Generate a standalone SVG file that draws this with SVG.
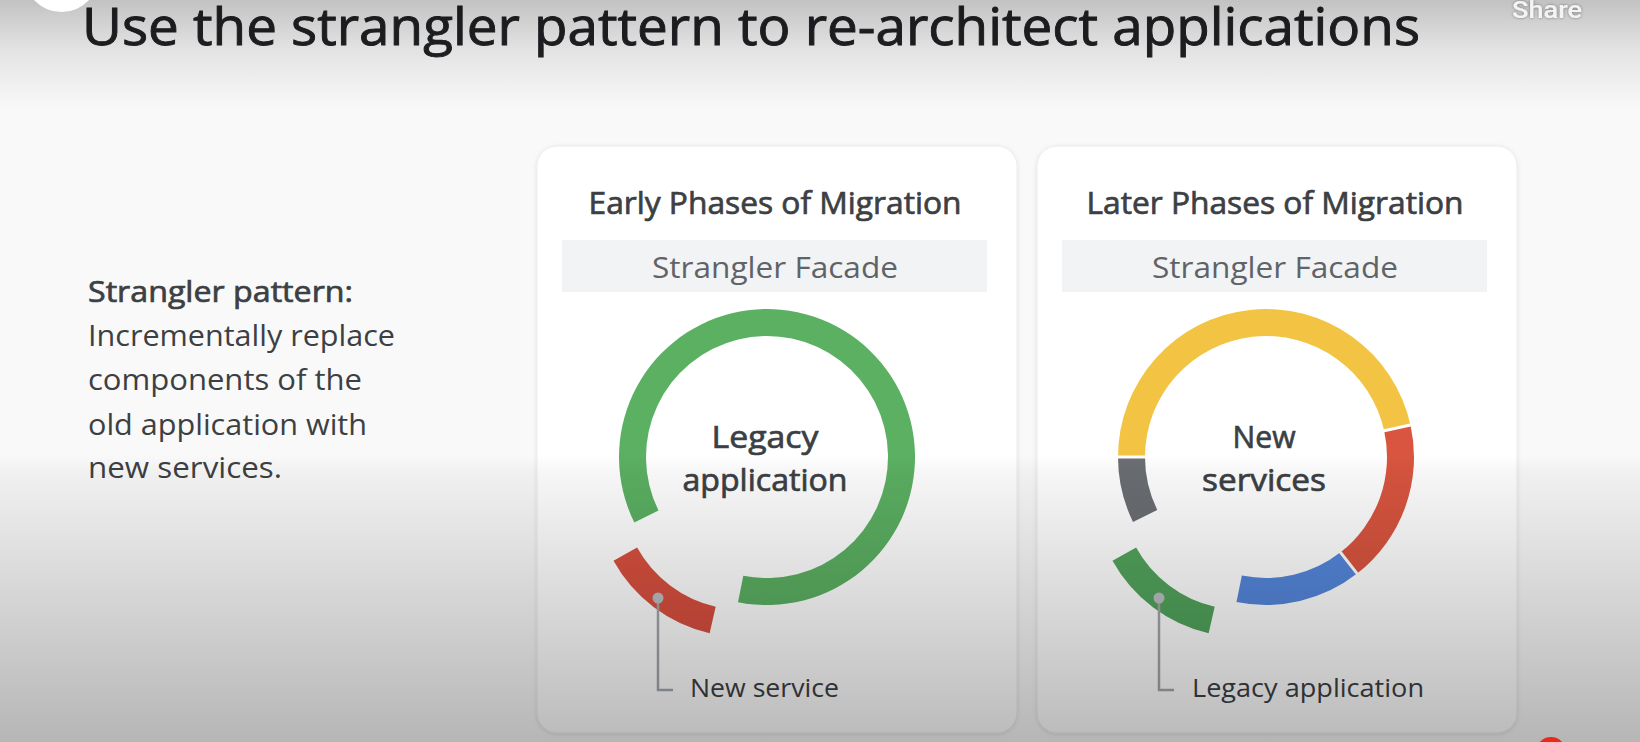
<svg xmlns="http://www.w3.org/2000/svg" width="1640" height="742" viewBox="0 0 1640 742">
  <defs>
    <style>
      .t { font-family: "Open Sans", "Noto Sans", sans-serif; fill: #3c4043; }
      .med { stroke: #3c4043; stroke-width: 0.7; paint-order: stroke; }
      .title { font-size: 51px; fill: #202124; stroke: #202124; stroke-width: 0.9; }
      .lead { font-size: 29px; }
      .ph { font-size: 31px; text-anchor: middle; }
      .fac { font-size: 30px; fill: #5f6368; text-anchor: middle; }
      .core { font-size: 31px; text-anchor: middle; }
      .cap { font-size: 26px; }
      .card { fill: #ffffff; stroke: #ececec; stroke-width: 1; }
      .bar { fill: #f1f3f4; }
      .lead-line { fill: none; stroke: #a3a6ab; stroke-width: 2.5; }
      .pin { fill: #bcbfc4; }
      .sep { stroke: #ffffff; stroke-width: 3; }
    </style>
    <filter id="cardShadow" x="-10%" y="-10%" width="120%" height="120%">
      <feDropShadow dx="0" dy="1" stdDeviation="2" flood-color="#000" flood-opacity="0.10"/>
    </filter>
    <filter id="textShadow" x="-20%" y="-40%" width="140%" height="180%">
      <feDropShadow dx="0" dy="0" stdDeviation="1.5" flood-color="#000" flood-opacity="0.45"/>
    </filter>
    <linearGradient id="topShade" x1="0" y1="0" x2="0" y2="1">
      <stop offset="0" stop-color="#000" stop-opacity="0.22"/>
      <stop offset="0.45" stop-color="#000" stop-opacity="0.09"/>
      <stop offset="1" stop-color="#000" stop-opacity="0"/>
    </linearGradient>
    <linearGradient id="bottomShade" x1="0" y1="0" x2="0" y2="1">
      <stop offset="0" stop-color="#000" stop-opacity="0"/>
      <stop offset="0.06" stop-color="#000" stop-opacity="0.035"/>
      <stop offset="1" stop-color="#000" stop-opacity="0.27"/>
    </linearGradient>
  </defs>

  <!-- page -->
  <rect x="0" y="0" width="1640" height="742" fill="#f9f9f9"/>

  <!-- heading -->
  <text id="heading" class="t title" x="82" y="45" textLength="1338" lengthAdjust="spacingAndGlyphs">Use the strangler pattern to re-architect applications</text>

  <!-- description -->
  <g id="description">
    <text class="t lead med" x="88" y="302" textLength="265" lengthAdjust="spacingAndGlyphs">Strangler pattern:</text>
    <text class="t lead" x="88" y="346" textLength="307" lengthAdjust="spacingAndGlyphs">Incrementally replace</text>
    <text class="t lead" x="88" y="390" textLength="274" lengthAdjust="spacingAndGlyphs">components of the</text>
    <text class="t lead" x="88" y="435" textLength="279" lengthAdjust="spacingAndGlyphs">old application with</text>
    <text class="t lead" x="88" y="478" textLength="194" lengthAdjust="spacingAndGlyphs">new services.</text>
  </g>

  <!-- early phase card -->
  <g id="early-phase">
    <rect class="card" x="537" y="146" width="480" height="587" rx="20" filter="url(#cardShadow)"/>
    <text class="t ph med" x="775" y="214" textLength="373" lengthAdjust="spacingAndGlyphs">Early Phases of Migration</text>
    <rect class="bar" x="562" y="240" width="425" height="52"/>
    <text class="t fac" x="775" y="278" textLength="246" lengthAdjust="spacingAndGlyphs">Strangler Facade</text>
    <!-- legacy ring -->
    <path fill="#5bb062" d="M634.32,522.56 A148,148 0 1 1 738.01,602.13 L743.30,575.65 A121,121 0 1 0 658.52,510.60 Z"/>
    <!-- extracted service -->
    <path fill="#d9503f" d="M709.63,633.15 A148,148 0 0 1 613.49,560.69 L637.10,547.60 A121,121 0 0 0 715.70,606.84 Z"/>
    <text class="t core med" x="765" y="448" textLength="107" lengthAdjust="spacingAndGlyphs">Legacy</text>
    <text class="t core med" x="765" y="491" textLength="165" lengthAdjust="spacingAndGlyphs">application</text>
  </g>

  <!-- later phase card -->
  <g id="later-phase">
    <rect class="card" x="1037" y="146" width="480" height="587" rx="20" filter="url(#cardShadow)"/>
    <text class="t ph med" x="1275" y="214" textLength="377" lengthAdjust="spacingAndGlyphs">Later Phases of Migration</text>
    <rect class="bar" x="1062" y="240" width="425" height="52"/>
    <text class="t fac" x="1275" y="278" textLength="246" lengthAdjust="spacingAndGlyphs">Strangler Facade</text>
    <!-- service ring segments -->
    <path fill="#f3c443" d="M1118,457 A148,148 0 0 1 1410.49,424.97 L1384.13,430.82 A121,121 0 0 0 1145,457 Z"/>
    <path fill="#d9553f" d="M1410.49,424.97 A148,148 0 0 1 1357.12,573.62 L1340.50,552.35 A121,121 0 0 0 1384.13,430.82 Z"/>
    <path fill="#5587dc" d="M1357.12,573.62 A148,148 0 0 1 1236.49,602.03 L1241.87,575.57 A121,121 0 0 0 1340.50,552.35 Z"/>
    <path fill="#6b6e72" d="M1132.98,521.88 A148,148 0 0 1 1118,457 L1145,457 A121,121 0 0 0 1157.25,510.05 Z"/>
    <line class="sep" x1="1116" y1="457" x2="1147" y2="457"/>
    <line class="sep" x1="1412.5" y1="424.5" x2="1382" y2="431.3"/>
    <line class="sep" x1="1358.3" y1="575.2" x2="1339.3" y2="550.8"/>
    <!-- remaining legacy piece -->
    <path fill="#52a45c" d="M1208.63,633.15 A148,148 0 0 1 1112.49,560.69 L1136.10,547.60 A121,121 0 0 0 1214.70,606.84 Z"/>
    <text class="t core med" x="1264" y="448" textLength="63" lengthAdjust="spacingAndGlyphs">New</text>
    <text class="t core med" x="1264" y="491" textLength="124" lengthAdjust="spacingAndGlyphs">services</text>
  </g>

  <!-- callouts -->
  <g id="connectors">
    <polyline class="lead-line" points="658,598 658,690 673,690"/>
    <circle class="pin" cx="658" cy="598" r="5.5"/>
    <polyline class="lead-line" points="1159,598 1159,690 1174,690"/>
    <circle class="pin" cx="1159" cy="598" r="5.5"/>
  </g>
  <text id="label-new-service" class="t cap" x="690" y="697" textLength="149" lengthAdjust="spacingAndGlyphs">New service</text>
  <text id="label-legacy-app" class="t cap" x="1192" y="697" textLength="232" lengthAdjust="spacingAndGlyphs">Legacy application</text>

  <!-- player shading -->
  <rect x="0" y="0" width="1640" height="110" fill="url(#topShade)"/>
  <rect x="0" y="455" width="1640" height="287" fill="url(#bottomShade)"/>

  <!-- player controls -->
  <circle cx="61.5" cy="-25.5" r="37.5" fill="#ffffff"/>
  <text x="1512" y="18" font-family="Roboto, 'Liberation Sans', sans-serif" font-size="23" font-weight="500" fill="#f4f4f4" textLength="70" lengthAdjust="spacingAndGlyphs" filter="url(#textShadow)">Share</text>
  <circle cx="1551" cy="752" r="15" fill="#e8291c"/>
</svg>
